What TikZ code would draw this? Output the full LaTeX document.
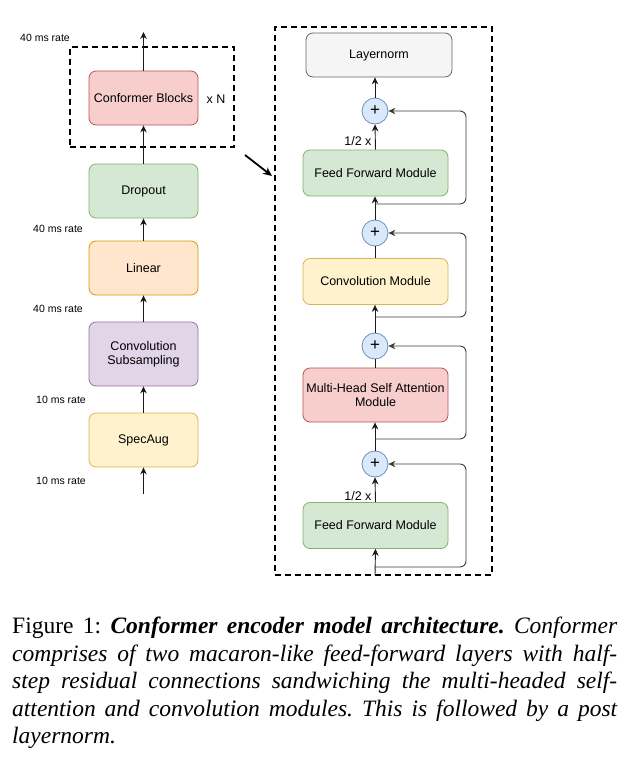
\documentclass[tikz,border=0pt]{standalone}
\usepackage{fontspec}
\setmainfont{Liberation Serif}
\newfontfamily\diagfont{Liberation Sans}
\usetikzlibrary{arrows.meta}
\definecolor{gfill}{HTML}{D5E8D4}\definecolor{gline}{HTML}{82B366}
\definecolor{ofill}{HTML}{FFE6CC}\definecolor{oline}{HTML}{D79B00}
\definecolor{pfill}{HTML}{E1D5E7}\definecolor{pline}{HTML}{9673A6}
\definecolor{yfill}{HTML}{FFF2CC}\definecolor{yline}{HTML}{D6B656}
\definecolor{rfill}{HTML}{F8CECC}\definecolor{rline}{HTML}{B85450}
\definecolor{nfill}{HTML}{F5F5F5}\definecolor{nline}{HTML}{666666}
\definecolor{bfill}{HTML}{DAE8FC}\definecolor{bline}{HTML}{6C8EBF}
\definecolor{wire}{HTML}{1A1A1A}
\begin{document}
\frenchspacing
\begin{tikzpicture}[x=1pt,y=-1pt,
  font=\diagfont\fontsize{12.5}{14}\selectfont,
  block/.style={draw, rounded corners=7pt, line width=0.8pt, align=center, inner sep=0pt},
  leftblock/.style={block, minimum width=109pt, minimum height=54pt},
  rightblock/.style={block, minimum width=145pt, minimum height=46pt},
  adder/.style={circle, draw=bline, fill=bfill, line width=0.8pt, minimum size=26pt, inner sep=0pt,
                font=\diagfont\fontsize{17}{17}\selectfont},
  flow/.style={draw=wire, line width=0.9pt, -{Stealth[length=7pt,width=6.5pt]}},
  plain/.style={draw=wire, line width=0.9pt},
  skip/.style={draw=wire!85, line width=0.9pt, rounded corners=6pt, -{Stealth[length=7pt,width=6.5pt]}},
  frame/.style={draw=black, line width=1.6pt, dash pattern=on 6pt off 4pt},
  rate/.style={font=\diagfont\fontsize{10.5}{12}\selectfont}]
\useasboundingbox (0,0) rectangle (630,760);

% ---- encoder stack (left) ----
\node[frame, minimum width=164pt, minimum height=100pt, inner sep=0pt] (group) at (152,97) {};
\node[leftblock, fill=rfill, draw=rline] (conf) at (143.5,98) {Conformer Blocks};
\node (times) at (216,99) {x N};
\node[leftblock, fill=gfill, draw=gline] (drop) at (143.5,191) {Dropout};
\node[leftblock, fill=ofill, draw=oline] (lin) at (143.5,268) {Linear};
\node[leftblock, fill=pfill, draw=pline, minimum height=64pt] (sub) at (143.5,354) {Convolution\\Subsampling};
\node[leftblock, fill=yfill, draw=yline] (spec) at (143.5,440) {SpecAug};
\coordinate (inL) at (143.5,494);
\coordinate (outL) at (143.5,32);

\path[flow] (inL) -- (spec.south);
\path[flow] (spec.north) -- (sub.south);
\path[flow] (sub.north) -- (lin.south);
\path[flow] (lin.north) -- (drop.south);
\path[flow] (drop.north) -- (conf.south);
\path[flow] (conf.north) -- (outL);

\node[rate] (r1) at (45,38) {40 ms rate};
\node[rate] (r2) at (58,229) {40 ms rate};
\node[rate] (r3) at (58,309) {40 ms rate};
\node[rate] (r4) at (61,400) {10 ms rate};
\node[rate] (r5) at (61,481) {10 ms rate};

% ---- pointer to the expanded block ----
\coordinate (ptrA) at (245,155);
\coordinate (ptrB) at (272,176);
\draw[line width=1.8pt, -{Stealth[length=9pt,width=8pt]}] (ptrA) -- (ptrB);

% ---- conformer block (right) ----
\node[frame, minimum width=217pt, minimum height=548pt, inner sep=0pt] (blk) at (383.5,301) {};
\node[block, fill=nfill, draw=nline, minimum width=146pt, minimum height=44pt] (norm) at (379,55) {Layernorm};
\node[adder] (c4) at (375,111) {+};
\node[rightblock, fill=gfill, draw=gline] (ff2) at (375.5,173) {Feed Forward Module};
\node[adder] (c3) at (375,233) {+};
\node[rightblock, fill=yfill, draw=yline] (conv) at (375.5,281.5) {Convolution Module};
\node[adder] (c2) at (375,346) {+};
\node[rightblock, fill=rfill, draw=rline, minimum height=54pt] (mhsa) at (375.5,395) {Multi-Head Self Attention\\Module};
\node[adder] (c1) at (375,464) {+};
\node[rightblock, fill=gfill, draw=gline] (ff1) at (375.5,525.5) {Feed Forward Module};
\coordinate (inR) at (375,575);

\path[flow] (inR) -- (ff1.south);
\path[flow] (ff1.north) -- (c1.south);
\path[flow] (c1.north) -- (c1.north |- mhsa.south);
\path[plain] (c1.north |- mhsa.north) -- (c2.south);
\path[flow] (c2.north) -- (c2.north |- conv.south);
\path[plain] (c2.north |- conv.north) -- (c3.south);
\path[flow] (c3.north) -- (c3.north |- ff2.south);
\path[flow] (ff2.north) -- (c4.south);
\path[flow] (c4.north) -- (c4.north |- norm.south);

\node[left] (h1) at (375,496) {1/2 x};
\node[left] (h2) at (375,141) {1/2 x};

% residual connections
\coordinate (s1) at (375,567);
\coordinate (s2) at (375,439);
\coordinate (s3) at (375,317);
\coordinate (s4) at (375,204);
\path[skip] (s1) -- (466,567) -- (466,464) -- (c1.east);
\path[skip] (s2) -- (466,439) -- (466,346) -- (c2.east);
\path[skip] (s3) -- (466,317) -- (466,233) -- (c3.east);
\path[skip] (s4) -- (466,204) -- (466,111) -- (c4.east);

% ---- caption ----
\node[anchor=north west, inner sep=0pt, text width=605pt, align=justify,
      font=\rmfamily\fontsize{23.5}{27.5}\selectfont] (cap) at (12,617)
{Figure 1: \textbf{\textit{Conformer encoder model architecture.}} \textit{Conformer\linebreak
comprises of two macaron-like feed-forward layers with half-\linebreak
step residual connections sandwiching the multi-headed self-\linebreak
attention and convolution modules. This is followed by a post\linebreak
layernorm.}};
\end{tikzpicture}
\end{document}
